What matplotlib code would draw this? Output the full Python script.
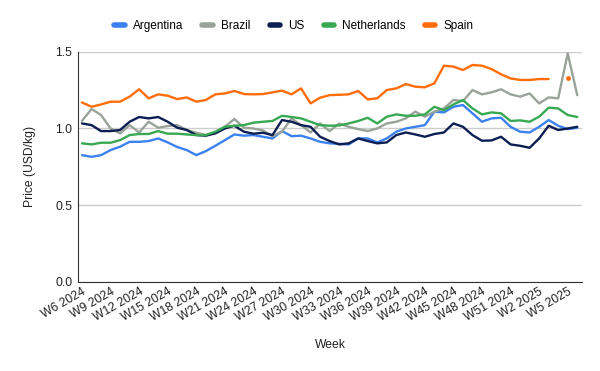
import numpy as np
import matplotlib
matplotlib.use("Agg")
import matplotlib.pyplot as plt

plt.rcParams["font.family"] = ["Liberation Sans", "DejaVu Sans"]

WEEKS_2024 = list(range(6, 53))
WEEKS_2025 = list(range(1, 7))
WEEK_LABELS = [f"W{w} 2024" for w in WEEKS_2024] + [f"W{w} 2025" for w in WEEKS_2025]

argentina = [0.826, 0.815, 0.826, 0.859, 0.881, 0.913, 0.913, 0.918, 0.935, 0.909,
             0.879, 0.859, 0.826, 0.852, 0.887, 0.924, 0.961, 0.953, 0.957, 0.946,
             0.935, 0.983, 0.950, 0.953, 0.935, 0.913, 0.903, 0.900, 0.896, 0.935,
             0.935, 0.909, 0.935, 0.979, 1.000, 1.011, 1.022, 1.110, 1.105, 1.142,
             1.153, 1.099, 1.044, 1.066, 1.070, 1.011, 0.979, 0.974, 1.011, 1.055,
             1.018, 0.996, 1.005]
brazil = [1.050, 1.127, 1.088, 1.000, 0.968, 1.022, 0.974, 1.044, 1.005, 1.016,
          1.022, 0.990, 0.972, 0.957, 0.974, 1.011, 1.062, 1.005, 1.000, 0.987,
          0.950, 0.979, 1.066, 1.022, 0.974, 1.033, 0.983, 1.032, 1.011, 0.996,
          0.983, 1.000, 1.033, 1.044, 1.066, 1.110, 1.077, 1.110, 1.131, 1.186,
          1.179, 1.251, 1.223, 1.236, 1.256, 1.223, 1.208, 1.229, 1.164, 1.203,
          1.197, 1.490, 1.218]
us = [1.033, 1.022, 0.983, 0.983, 0.990, 1.044, 1.075, 1.066, 1.075, 1.044,
      1.005, 0.990, 0.957, 0.953, 0.968, 1.000, 1.018, 0.979, 0.966, 0.972,
      0.957, 1.055, 1.044, 1.022, 1.011, 0.946, 0.918, 0.896, 0.903, 0.935,
      0.918, 0.903, 0.909, 0.957, 0.974, 0.961, 0.946, 0.964, 0.974, 1.033,
      1.011, 0.957, 0.920, 0.922, 0.946, 0.896, 0.887, 0.874, 0.935, 1.018,
      0.990, 1.000, 1.011]
netherlands = [0.903, 0.896, 0.907, 0.907, 0.924, 0.957, 0.964, 0.964, 0.983, 0.966,
               0.966, 0.961, 0.957, 0.957, 0.979, 1.011, 1.018, 1.022, 1.038, 1.044,
               1.049, 1.083, 1.075, 1.066, 1.044, 1.022, 1.018, 1.020, 1.033, 1.049,
               1.070, 1.033, 1.077, 1.092, 1.083, 1.083, 1.092, 1.142, 1.120, 1.157,
               1.186, 1.131, 1.092, 1.105, 1.099, 1.049, 1.053, 1.044, 1.077, 1.136,
               1.131, 1.088, 1.075]
spain = [1.170, 1.142, 1.157, 1.175, 1.175, 1.208, 1.256, 1.197, 1.223, 1.214,
         1.192, 1.203, 1.175, 1.186, 1.223, 1.229, 1.245, 1.225, 1.223, 1.225,
         1.236, 1.247, 1.223, 1.262, 1.164, 1.201, 1.218, 1.220, 1.223, 1.245,
         1.190, 1.197, 1.251, 1.262, 1.290, 1.273, 1.269, 1.295, 1.410, 1.404,
         1.382, 1.415, 1.410, 1.388, 1.354, 1.327, 1.317, 1.317, 1.323, 1.323,
         np.nan, 1.332, np.nan]

SERIES = [
    ("Argentina", argentina, "#3b82f0"),
    ("Brazil", brazil, "#9aa39a"),
    ("US", us, "#0d1f52"),
    ("Netherlands", netherlands, "#38a852"),
    ("Spain", spain, "#ff6d0a"),
]

INK = "#222222"
GRID = "#cccccc"

fig = plt.figure(figsize=(6, 3.71), dpi=100)
ax = fig.add_axes([0.13, 0.241, 0.84, 0.619])

x = np.arange(len(WEEK_LABELS))
for name, values, color in SERIES:
    vals = np.array(values, dtype=float)
    ax.plot(x, vals, color=color, lw=1.7, solid_joinstyle="round",
            solid_capstyle="round", label=name)
    # isolated points (neighbours missing) are shown as dots
    for i in range(len(vals)):
        if np.isnan(vals[i]):
            continue
        left = i == 0 or np.isnan(vals[i - 1])
        right = i == len(vals) - 1 or np.isnan(vals[i + 1])
        if left and right:
            ax.plot(x[i], vals[i], "o", color=color, ms=3.5, mec="none")

ax.set_xlim(-0.42, 52.5)
ax.set_ylim(0, 1.5)
ax.set_yticks([0, 0.5, 1.0, 1.5])
ax.set_yticklabels(["0.0", "0.5", "1.0", "1.5"])
ax.yaxis.grid(True, color=GRID, lw=1)
ax.set_axisbelow(True)

tick_pos = x[::3]
ax.set_xticks(tick_pos)
ax.set_xticklabels(WEEK_LABELS[::3], rotation=30, ha="right", va="top",
                   rotation_mode="anchor")
ax.tick_params(axis="both", length=0, labelsize=8.7, colors=INK, pad=4)
ax.tick_params(axis="x", pad=3)

for side in ["top", "right"]:
    ax.spines[side].set_visible(False)
ax.spines["left"].set_color("#333333")
ax.spines["bottom"].set_color("#333333")

ax.set_xlabel("Week", fontsize=8.7, color=INK, labelpad=11)
ax.set_ylabel("Price (USD/kg)", fontsize=8.7, color=INK, labelpad=14)

fig.legend(loc="upper center", bbox_to_anchor=(0.49, 0.975), ncol=5, frameon=False,
           fontsize=8.5, handlelength=0.9, handletextpad=0.7, columnspacing=1.6)
for line in fig.legends[0].get_lines():
    line.set_linewidth(4)

fig.savefig("out.png", dpi=100)
